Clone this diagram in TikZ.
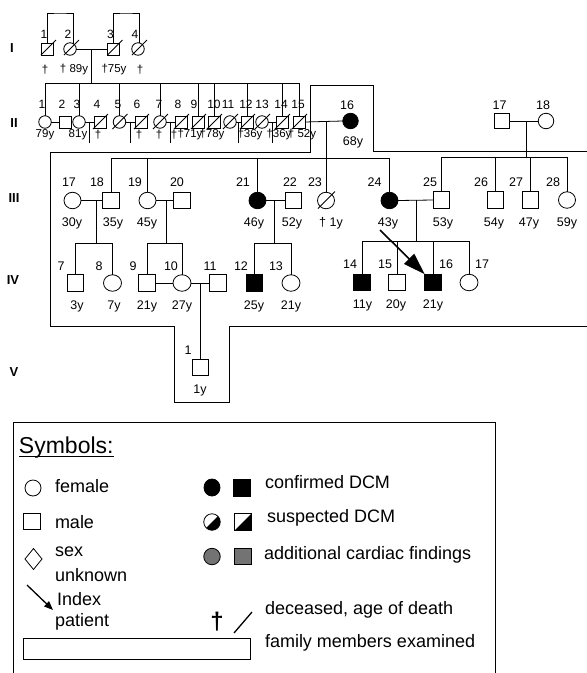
\documentclass[tikz,border=0pt]{standalone}
\usepackage{fontspec}
\setmainfont{Liberation Sans}
\usetikzlibrary{calc,shapes.geometric,arrows.meta}
\newcommand{\decsl}[3]{\draw ($(#1.center)+(-#2,#2)$) -- ($(#1.center)+(#3,-#3)$);}
\begin{document}
\begin{tikzpicture}[x=1pt,y=-1pt,line width=0.8pt,
  every node/.style={inner sep=0pt,outer sep=0pt},
  msm/.style={draw,rectangle,minimum size=12pt},
  fsm/.style={draw,circle,minimum size=12.5pt},
  mmd/.style={draw,rectangle,minimum size=15pt},
  fmd/.style={draw,circle,minimum size=15.5pt},
  mlg/.style={draw,rectangle,minimum size=16.5pt},
  flg/.style={draw,ellipse,minimum width=17pt,minimum height=16.5pt},
  aff/.style={fill=black},
  half/.style={path picture={\fill (path picture bounding box.north east) -- (path picture bounding box.south east) -- (path picture bounding box.south west) -- cycle;}},
  numsm/.style={font=\fontsize{12}{13}\selectfont},
  num/.style={font=\fontsize{12.5}{14}\selectfont},
  labsm/.style={font=\fontsize{11.5}{12}\selectfont},
  lab/.style={font=\fontsize{12.5}{14}\selectfont},
  gen/.style={font=\fontsize{13}{14}\selectfont\bfseries},
  leg/.style={font=\fontsize{18}{20}\selectfont,anchor=mid west},
]
\path[use as bounding box] (0,0) rectangle (587,673);
\clip (0,0) rectangle (587,673);

% generation labels
\node[gen] (gI) at (12,48) {I};
\node[gen] (gII) at (14,123) {II};
\node[gen] (gIII) at (14,198) {III};
\node[gen] (gIV) at (13,280) {IV};
\node[gen] (gV) at (14,372) {V};

% ---------- Generation I
\node[msm] (I1) at (47,49) {};
\node[fsm] (I2) at (70,49) {};
\node[msm] (I3) at (113.5,49) {};
\node[fsm] (I4) at (138,49) {};
\foreach \n in {I1,I2,I3,I4} {\decsl{\n}{6}{9}}
\node[numsm] (nI1) at (44,34) {1};
\node[numsm] (nI2) at (68,34) {2};
\node[numsm] (nI3) at (110.5,34) {3};
\node[numsm] (nI4) at (135,34) {4};
\node[labsm] (aI1) at (45,70) {†};
\node[labsm] (aI2) at (74,70) {† 89y};
\node[labsm] (aI3) at (114,70) {†75y};
\node[labsm] (aI4) at (140,70) {†};

% ---------- Generation II
\node[fsm] (II1) at (45,122) {};
\node[msm] (II2) at (65,122) {};
\node[fsm] (II3) at (79,122) {};
\node[msm] (II4) at (100,122) {};
\node[fsm] (II5) at (119.5,122) {};
\node[msm] (II6) at (141,122) {};
\node[fsm] (II7) at (160,122) {};
\node[msm] (II8) at (181,122) {};
\node[msm] (II9) at (198,122) {};
\node[msm] (II10) at (214,122) {};
\node[fsm] (II11) at (230,122) {};
\node[msm] (II12) at (247,122) {};
\node[fsm] (II13) at (262,122) {};
\node[msm] (II14) at (282,122) {};
\node[msm] (II15) at (299,122) {};
\foreach \n in {II4,II5,II6,II7,II8,II9,II10,II11,II12,II13,II14,II15} {\decsl{\n}{7}{8}}
\node[fmd,aff] (II16) at (350.5,121) {};
\node[mmd] (II17) at (501.5,121) {};
\node[fmd] (II18) at (546,121) {};

\node[numsm] (nII1) at (42,104) {1};
\node[numsm] (nII2) at (62,104) {2};
\node[numsm] (nII3) at (77,104) {3};
\node[numsm] (nII4) at (97,104) {4};
\node[numsm] (nII5) at (118,104) {5};
\node[numsm] (nII6) at (137,104) {6};
\node[numsm] (nII7) at (159,104) {7};
\node[numsm] (nII8) at (178,104) {8};
\node[numsm] (nII9) at (194,104) {9};
\node[numsm] (nII10) at (214,104) {10};
\node[numsm] (nII11) at (228,104) {11};
\node[numsm] (nII12) at (246,104) {12};
\node[numsm] (nII13) at (262,104) {13};
\node[numsm] (nII14) at (281,104) {14};
\node[numsm] (nII15) at (298,104) {15};
\node[num] (nII16) at (347,105) {16};
\node[num] (nII17) at (499.5,105) {17};
\node[num] (nII18) at (543,105) {18};

\node[labsm] (aII1) at (45,135) {79y};
\node[labsm] (aII3) at (78,135) {81y};
\node[labsm] (aII4) at (98,135) {†};
\node[labsm] (aII6) at (139,135) {†};
\node[labsm] (aII7) at (159,135) {†};
\node[labsm] (aII8) at (174,135) {†};
\node[labsm] (aII9) at (190,135) {†71y};
\node[labsm] (aII10) at (212,135) {†78y};
\node[labsm] (aII12) at (250,135) {†36y};
\node[labsm] (aII14) at (279,135) {†36y};
\node[labsm] (aII15) at (302,135) {† 52y};
\node[lab] (aII16) at (353,142) {68y};

% ---------- Generation III
\node[flg] (III17) at (72.5,200.5) {};
\node[mlg] (III18) at (111,200.5) {};
\node[flg] (III19) at (147.5,200.5) {};
\node[mlg] (III20) at (182,200.5) {};
\node[flg,aff] (III21) at (257.5,200.5) {};
\node[mlg] (III22) at (293.5,200.5) {};
\node[flg] (III23) at (326,200.5) {};
\decsl{III23}{8}{9}
\node[flg,aff] (III24) at (389.5,200.5) {};
\node[mlg] (III25) at (441.5,200) {};
\node[mlg] (III26) at (495.5,200) {};
\node[mlg] (III27) at (530.5,200) {};
\node[flg] (III28) at (567,200) {};

\node[num] (nIII17) at (69,182) {17};
\node[num] (nIII18) at (97,182) {18};
\node[num] (nIII19) at (135,182) {19};
\node[num] (nIII20) at (177,182) {20};
\node[num] (nIII21) at (243,182) {21};
\node[num] (nIII22) at (290,182) {22};
\node[num] (nIII23) at (315,182) {23};
\node[num] (nIII24) at (374.5,182) {24};
\node[num] (nIII25) at (430,182) {25};
\node[num] (nIII26) at (481,182) {26};
\node[num] (nIII27) at (516,182) {27};
\node[num] (nIII28) at (553,182) {28};

\node[lab] (aIII17) at (72,223) {30y};
\node[lab] (aIII18) at (113,223) {35y};
\node[lab] (aIII19) at (147,223) {45y};
\node[lab] (aIII21) at (254,223) {46y};
\node[lab] (aIII22) at (292,223) {52y};
\node[lab] (aIII23) at (331,223) {† 1y};
\node[lab] (aIII24) at (388,223) {43y};
\node[lab] (aIII25) at (443,223) {53y};
\node[lab] (aIII26) at (494,223) {54y};
\node[lab] (aIII27) at (529,223) {47y};
\node[lab] (aIII28) at (567,223) {59y};

% ---------- Generation IV
\node[mlg] (IV7) at (75.5,283) {};
\node[flg,minimum width=18pt] (IV8) at (112.5,283) {};
\node[mlg] (IV9) at (147,283) {};
\node[flg,minimum width=18pt] (IV10) at (182,283) {};
\node[mlg] (IV11) at (218,283) {};
\node[mlg,aff] (IV12) at (254.5,283) {};
\node[flg,minimum width=18pt] (IV13) at (291,283) {};
\node[mlg,aff] (IV14) at (362,282.5) {};
\node[mlg] (IV15) at (397,282.5) {};
\node[mlg,aff] (IV16) at (433,282.5) {};
\node[flg,minimum width=18pt] (IV17) at (469,282.5) {};

\node[num] (nIV7) at (61,266) {7};
\node[num] (nIV8) at (99,266) {8};
\node[num] (nIV9) at (133,266) {9};
\node[num] (nIV10) at (171,266) {10};
\node[num] (nIV11) at (210,266) {11};
\node[num] (nIV12) at (241,266) {12};
\node[num] (nIV13) at (276,266) {13};
\node[num] (nIV14) at (350,264) {14};
\node[num] (nIV15) at (385,264) {15};
\node[num] (nIV16) at (446,264) {16};
\node[num] (nIV17) at (482,264) {17};

\node[lab] (aIV7) at (77,306) {3y};
\node[lab] (aIV8) at (114,306) {7y};
\node[lab] (aIV9) at (147,306) {21y};
\node[lab] (aIV10) at (182,306) {27y};
\node[lab] (aIV12) at (254,306) {25y};
\node[lab] (aIV13) at (291,306) {21y};
\node[lab] (aIV14) at (362.5,305) {11y};
\node[lab] (aIV15) at (396,305) {20y};
\node[lab] (aIV16) at (433,305) {21y};

% ---------- Generation V
\node[mlg] (V1) at (200.5,367.5) {};
\node[num] (nV1) at (188,350) {1};
\node[lab] (aV1) at (200,390) {1y};

% ---------- connectors
\coordinate (brA) at (60,13);
\coordinate (brB) at (126,13);
\draw (I1.north) |- (brA) -| (I2.60);
\draw (I3.north) |- (brB) -| (I4.80);
\draw (I2.east) -- (I3.west);
\coordinate (mI) at ($(I2.east)!0.5!(I3.west)$);
\coordinate (sibII) at (0,83);
\draw (mI) -- (mI |- sibII);
\draw (II1.north |- sibII) -- (II15.north |- sibII);
\foreach \c in {II1,II3,II5,II7,II9,II10,II12,II14,II15} {\draw (\c.north) -- (\c.north |- sibII);}

\draw (II1.east) -- (II2.west);
\coordinate (stubII) at (0,143);
\foreach \a/\b in {II3/II4,II5/II6,II7/II8,II11/II12,II13/II14} {
  \draw (\a.east) -- (\b.west);
  \coordinate (m\a) at ($(\a.east)!0.5!(\b.west)$);
  \draw (m\a) -- (m\a |- stubII);
}
\draw (II15.east) -- (II16.west);
\coordinate (m1516) at (III23.north |- II16.west);
\draw (m1516) -- (III23.north);
\coordinate (sibIIIl) at (0,158);
\draw (III18.north |- sibIIIl) -- (III24.north |- sibIIIl);
\foreach \c in {III18,III19,III21,III24} {\draw (\c.north) -- (\c.north |- sibIIIl);}

\draw (II17.east) -- (II18.west);
\coordinate (m1718) at (526,121);
\coordinate (sibIIIr) at (0,157);
\draw (m1718) -- (m1718 |- sibIIIr);
\draw (III25.north |- sibIIIr) -- (III28.north |- sibIIIr);
\foreach \c in {III25,III26,III27,III28} {\draw (\c.north) -- (\c.north |- sibIIIr);}

\coordinate (sibIV) at (0,243);
\coordinate (sibIVr) at (0,241);
\draw (III17.east) -- (III18.west);
\draw (III19.east) -- (III20.west);
\draw (III21.east) -- (III22.west);
\draw (III24.east) -- (III25.west);
\coordinate (mIII17) at (96,200.5);
\coordinate (mIII19) at (166,200.5);
\coordinate (mIII21) at (274,200.5);
\coordinate (mIII24) at (416,200);
\draw (mIII17) -- (mIII17 |- sibIV);
\draw (mIII19) -- (mIII19 |- sibIV);
\draw (mIII21) -- (mIII21 |- sibIV);
\draw (mIII24) -- (mIII24 |- sibIVr);
\draw (IV7.north |- sibIV) -- (IV8.north |- sibIV);
\draw (IV9.north |- sibIV) -- (IV10.north |- sibIV);
\draw (IV12.north |- sibIV) -- (IV13.north |- sibIV);
\draw (IV14.north |- sibIVr) -- (IV17.north |- sibIVr);
\foreach \c in {IV7,IV8,IV9,IV10,IV12,IV13} {\draw (\c.north) -- (\c.north |- sibIV);}
\foreach \c in {IV14,IV15,IV16,IV17} {\draw (\c.north) -- (\c.north |- sibIVr);}

\draw (IV9.east) -- (IV10.west);
\draw (IV10.east) -- (IV11.west);
\coordinate (mIV10) at (V1.north |- IV10.east);
\draw (mIV10) -- (V1.north);

% index patient arrow
\coordinate (idx) at (380,230);
\draw[line width=1.6pt,-{Triangle[length=22pt,width=14pt]}] (idx) -- (IV16.north west);

% examined family members box
\draw (600,151) -- (373,151) -- (373,85) -- (310,85) -- (310,152) -- (50,152)
  -- (50,326) -- (174,326) -- (174,402) -- (229,402) -- (229,326) -- (600,326);

% ---------- legend
\draw (13,690) -- (13,422) -- (495,422) -- (495,690);
\node[font=\fontsize{23}{26}\selectfont,anchor=base west] (sym) at (19,453) {Symbols:};
\draw ($(sym.base west)+(0,3)$) -- ($(sym.base east)+(0,3)$);

\node[draw,circle,minimum size=16pt] (lf) at (33,488) {};
\node[leg] (tf) at (55,490) {female};
\node[draw,rectangle,minimum size=16.5pt] (lm) at (32,521.5) {};
\node[leg] (tm) at (55,526) {male};
\node[draw,diamond,minimum width=17pt,minimum height=21pt] (ld) at (33.5,559) {};
\node[leg] (ts) at (55,554) {sex};
\node[leg] (tu) at (55,579) {unknown};
\coordinate (la1) at (27,585);
\coordinate (la2) at (53,610);
\draw[line width=1.3pt,-{Triangle[length=9pt,width=7pt]}] (la1) -- (la2);
\node[leg] (ti) at (57,603) {Index};
\node[leg] (tp) at (55,623.5) {patient};
\node[draw,minimum width=227pt,minimum height=21pt] (lbar) at (136.5,648.5) {};

\node[draw,ellipse,aff,minimum width=16pt,minimum height=17pt] (lc1) at (212,487.5) {};
\node[draw,rectangle,aff,minimum size=17pt] (lc2) at (242,487.5) {};
\node[leg] (tc) at (265,486) {confirmed DCM};
\node[draw,circle,half,minimum size=16.5pt] (ls1) at (212,522) {};
\node[draw,rectangle,half,minimum size=16.5pt] (ls2) at (243,522) {};
\node[leg] (tsu) at (267,520) {suspected DCM};
\node[draw,circle,fill=black!55,minimum size=16.5pt] (lad1) at (212,556.5) {};
\node[draw,rectangle,fill=black!55,minimum size=16.5pt] (lad2) at (243,556.5) {};
\node[leg] (tad) at (264,557) {additional cardiac findings};
\node[font=\fontsize{24}{26}\selectfont\bfseries] (ldg) at (217,622) {†};
\coordinate (lsl1) at (234,633);
\coordinate (lsl2) at (252,612);
\draw[line width=1.3pt] (lsl1) -- (lsl2);
\node[leg] (tde) at (265,612) {deceased, age of death};
\node[leg] (tfa) at (265,645) {family members examined};
\end{tikzpicture}
\end{document}
